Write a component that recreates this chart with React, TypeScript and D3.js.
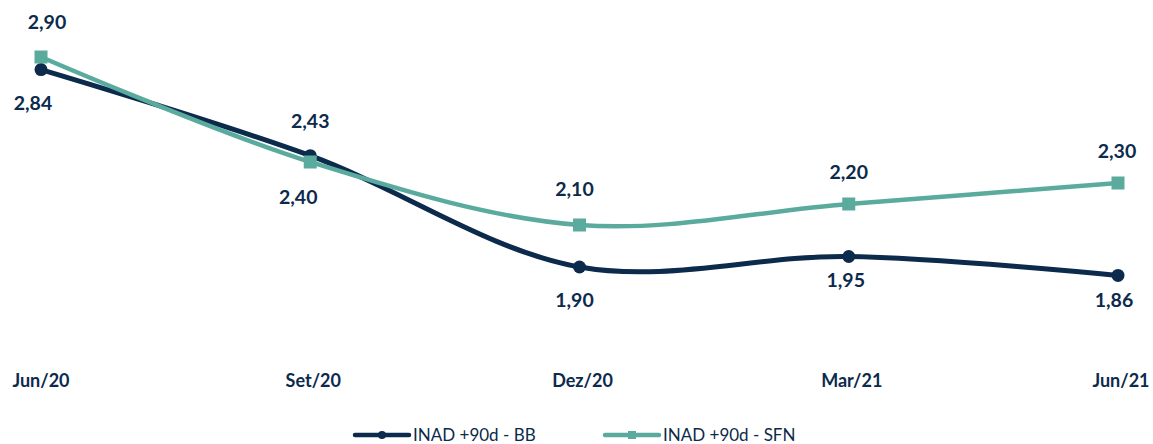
import React, { useEffect, useRef } from 'react';
import * as d3 from 'd3';

const categories = ['Jun/20', 'Set/20', 'Dez/20', 'Mar/21', 'Jun/21'];
const bbValues = [2.84, 2.43, 1.9, 1.95, 1.86];
const sfnValues = [2.9, 2.4, 2.1, 2.2, 2.3];
// label side: true = above the point
const bbAbove = [false, true, false, false, false];
const sfnAbove = [true, false, true, true, true];

const NAVY = '#0c2a4b';
const TEAL = '#5aab9e';

export default function App() {
  const svgRef = useRef<SVGSVGElement>(null);

  useEffect(() => {
    if (!svgRef.current) return;
    const svg = d3.select(svgRef.current);
    svg.selectAll('*').remove();

    const x = d3.scalePoint<string>().domain(categories).range([41, 1118]);
    const y = d3.scaleLinear().domain([1.5, 3.0]).range([351, 36]);

    const line = d3.line<number>()
      .x((_, i) => x(categories[i]) || 0)
      .y(d => y(d))
      .curve(d3.curveCatmullRom.alpha(0.5));

    const fmt = (v: number) => v.toFixed(2).replace('.', ',');
    const font = "Lato, 'Open Sans', sans-serif";

    // Lines
    svg.append('path')
      .datum(bbValues)
      .attr('d', line)
      .attr('fill', 'none')
      .attr('stroke', NAVY)
      .attr('stroke-width', 5);

    svg.append('path')
      .datum(sfnValues)
      .attr('d', line)
      .attr('fill', 'none')
      .attr('stroke', TEAL)
      .attr('stroke-width', 4.5);

    // Markers
    svg.selectAll('circle.bb')
      .data(bbValues)
      .enter()
      .append('circle')
      .attr('class', 'bb')
      .attr('cx', (_, i) => x(categories[i]) || 0)
      .attr('cy', d => y(d))
      .attr('r', 6.5)
      .attr('fill', NAVY);

    svg.selectAll('rect.sfn')
      .data(sfnValues)
      .enter()
      .append('rect')
      .attr('class', 'sfn')
      .attr('x', (_, i) => (x(categories[i]) || 0) - 6.5)
      .attr('y', d => y(d) - 6.5)
      .attr('width', 13)
      .attr('height', 13)
      .attr('fill', TEAL);

    // Data labels
    const addLabels = (vals: number[], above: boolean[], cls: string, dx: number[], dy: number[]) => {
      svg.selectAll(`text.${cls}`)
        .data(vals)
        .enter()
        .append('text')
        .attr('class', cls)
        .attr('x', (_, i) => (x(categories[i]) || 0) + dx[i])
        .attr('y', (d, i) => y(d) + (above[i] ? -29 : 40) + dy[i])
        .attr('text-anchor', 'middle')
        .style('font-family', font)
        .style('font-size', '19.5px')
        .style('font-weight', 'bold')
        .style('fill', NAVY)
        .text(d => fmt(d));
    };
    addLabels(bbValues, bbAbove, 'lbb', [-8, 0, -5, -3, -4], [0, 1, 0, -10, -8]);
    addLabels(sfnValues, sfnAbove, 'lsfn', [6, -12, -5, 0, -1], [1, 2, 0, 4, 4]);

    // X axis labels
    svg.selectAll('text.xlab')
      .data(categories)
      .enter()
      .append('text')
      .attr('class', 'xlab')
      .attr('x', (d, i) => (x(d) || 0) + (i === 0 ? 0 : 3))
      .attr('y', 387)
      .attr('text-anchor', 'middle')
      .style('font-family', font)
      .style('font-size', '18px')
      .style('font-weight', 'bold')
      .style('fill', NAVY)
      .text(d => d);

    // Legend
    const legend = [
      { name: 'INAD +90d - BB', color: NAVY, x: 355, marker: 'circle' },
      { name: 'INAD +90d - SFN', color: TEAL, x: 605, marker: 'rect' },
    ];
    const ly = 435;
    legend.forEach(l => {
      const g = svg.append('g');
      g.append('line')
        .attr('x1', l.x).attr('x2', l.x + 54)
        .attr('y1', ly).attr('y2', ly)
        .attr('stroke', l.color)
        .attr('stroke-width', 4.5)
        .attr('stroke-linecap', 'round');
      if (l.marker === 'circle') {
        g.append('circle').attr('cx', l.x + 27).attr('cy', ly).attr('r', 4).attr('fill', l.color);
      } else {
        g.append('rect').attr('x', l.x + 23).attr('y', ly - 4).attr('width', 8).attr('height', 8).attr('fill', l.color);
      }
      g.append('text')
        .attr('x', l.x + 58)
        .attr('y', ly + 6)
        .style('font-family', font)
        .style('font-size', '17px')
        .style('fill', NAVY)
        .text(l.name);
    });
  }, []);

  return (
    <svg
      ref={svgRef}
      width={1153}
      height={444}
      style={{ position: 'absolute', left: 0, top: 0, background: '#fff' }}
    />
  );
}
